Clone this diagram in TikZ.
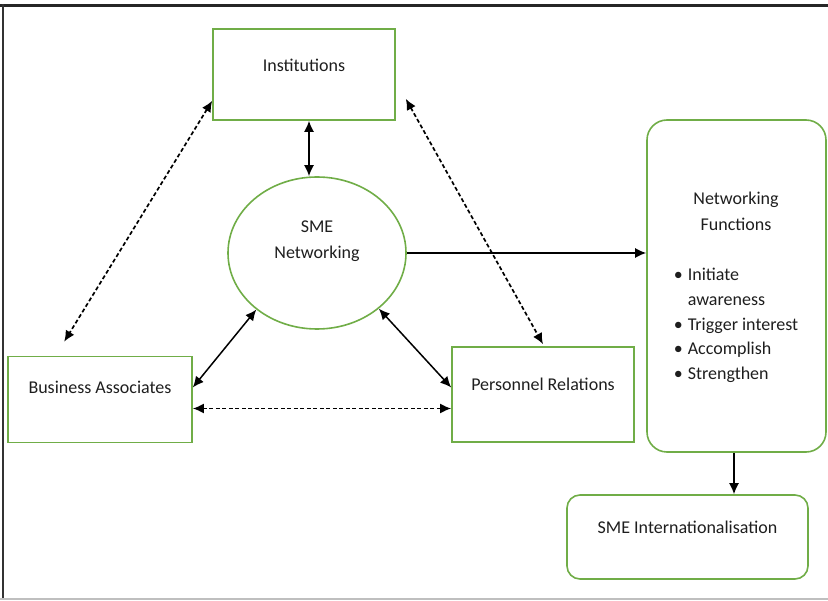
\documentclass[tikz,border=0pt]{standalone}
\usepackage{fontspec}
\setmainfont{Carlito}
\usetikzlibrary{arrows.meta,shapes.geometric}
\definecolor{boxgreen}{HTML}{70AD47}
\definecolor{txtgray}{HTML}{1E1E1E}
\begin{document}
\begin{tikzpicture}[x=1pt,y=-1pt,
  box/.style={draw=boxgreen, line width=1.6pt, inner sep=0pt},
  lbl/.style={font=\fontsize{18}{26}\selectfont, text=txtgray, align=center, inner sep=0pt},
  arr/.style={line width=1.5pt, {Latex[length=11pt,width=10pt]}-{Latex[length=11pt,width=10pt]}},
  darr/.style={arr, line width=1.7pt, dash pattern=on 4pt off 2.5pt},
  oarr/.style={line width=1.5pt, -{Latex[length=11pt,width=10pt]}}
]
\useasboundingbox (0,0) rectangle (828,601);
% outer frame
\draw[line width=3pt, black!85] (0,5.5) -- (828,5.5);
\draw[line width=2pt, black!80] (2.5,4) -- (2.5,598);
\draw[line width=1.5pt, black!25] (0,599) -- (828,599);

% nodes
\node[box, minimum width=182, minimum height=91,
      label={[lbl,yshift=9.5pt]center:Institutions}] (inst) at (304,74.5) {};
\node[box, ellipse, minimum width=178, minimum height=152,
      label={[lbl,yshift=12pt]center:SME\\Networking}] (sme) at (317,253) {};
\node[box, minimum width=184, minimum height=86,
      label={[lbl,yshift=12pt]center:Business Associates}] (ba) at (100,399.5) {};
\node[box, minimum width=182, minimum height=95,
      label={[lbl,yshift=10pt]center:Personnel Relations}] (pr) at (543,394.5) {};
\node[box, rounded corners=20pt, minimum width=179, minimum height=332] (nf) at (736.5,286) {};
\node[lbl, anchor=north] (nft) at (736,192) {Networking\\Functions\\[24pt]%
  {\renewcommand\arraystretch{0.95}\begin{tabular}[t]{@{}l@{\hspace{5pt}}l@{}}
  \textbullet & Initiate\\
   & awareness\\
  \textbullet & Trigger interest\\
  \textbullet & Accomplish\\
  \textbullet & Strengthen
  \end{tabular}}};
\node[box, rounded corners=13pt, minimum width=241, minimum height=84,
      label={[lbl,yshift=10pt]center:SME Internationalisation}] (smei) at (687.5,537) {};

% connectors
\draw[arr] ([xshift=5pt]inst.south) -- ([xshift=-8pt]sme.north);
\draw[arr] (sme.223) -- ([yshift=12pt]ba.east);
\draw[arr] (sme.-42) -- ([yshift=7pt]pr.west);
\draw[oarr] (sme.east) -- (sme.east -| nf.west);
\draw[darr] ([yshift=-9pt]ba.east) -- ([yshift=-9pt]ba.east -| pr.west);
\draw[darr] ([yshift=20pt]inst.south west) -- ([xshift=57pt,yshift=14pt]ba.north west);
\draw[darr] ([xshift=10pt,yshift=22pt]inst.south east) -- ([yshift=2pt]pr.north);
\draw[oarr] ([xshift=-2.5pt]nf.south) -- ([xshift=-2.5pt]nf.south |- smei.north);
\end{tikzpicture}
\end{document}
